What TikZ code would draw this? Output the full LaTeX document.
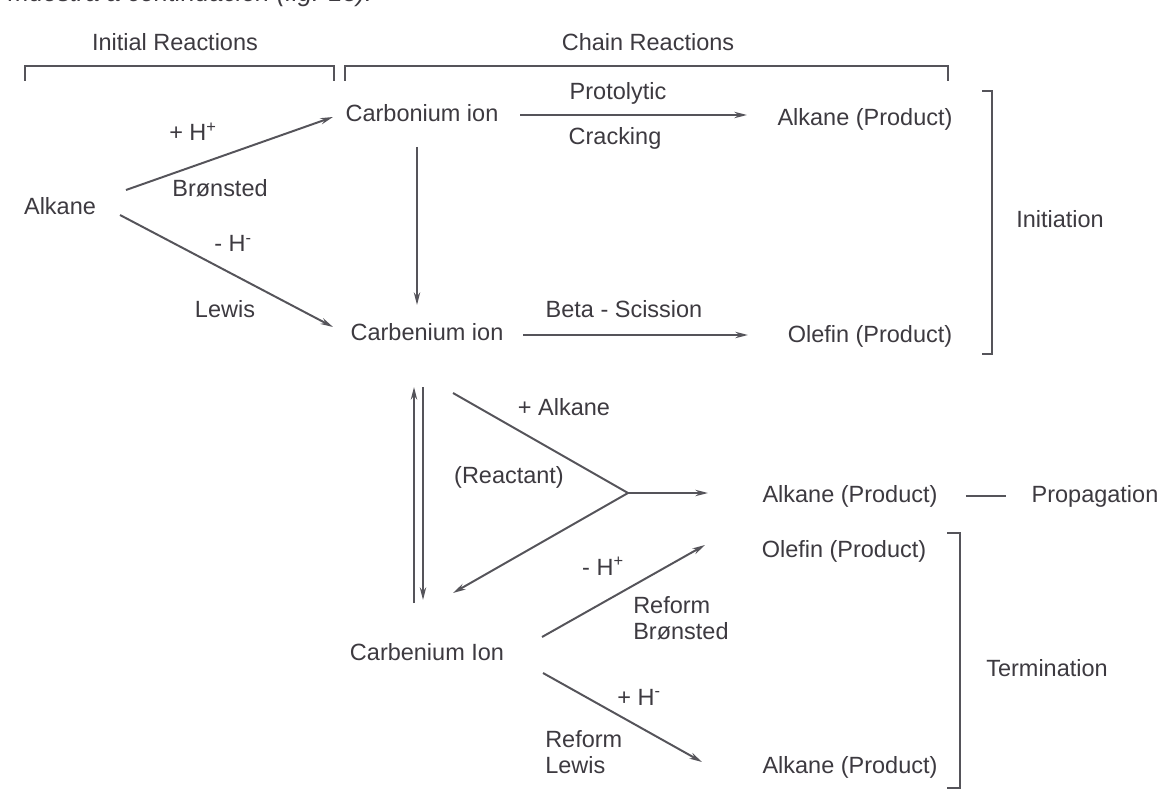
\documentclass[tikz,border=0pt]{standalone}
\usepackage{fontspec}
\setmainfont{Liberation Sans}
\usetikzlibrary{arrows.meta}
\definecolor{ink}{HTML}{3D3A40}
\definecolor{rule}{HTML}{55545A}

\begin{document}
\begin{tikzpicture}[x=0.025cm,y=-0.025cm,
    lbl/.style={inner sep=0pt,anchor=base,text=ink,font=\fontsize{16.7}{18.4}\selectfont},
    line/.style={draw=rule,line width=1.4pt},
    arr/.style={line,-{Stealth[length=9pt,width=4.5pt]}}]
  \useasboundingbox (0,0) rectangle (1168,806);
  \clip (0,0) rectangle (1168,806);
  \fill[white] (0,0) rectangle (1168,806);

  % text cut off at the top
  \node[lbl,anchor=base west,font=\fontsize{18}{20}\selectfont\itshape] (cut) at (8,2) {muestra a continuación (fig. 13).};

  % headings and brackets
  \node[lbl] (hinit) at (175,51) {Initial Reactions};
  \node[lbl] (hchain) at (648,51) {Chain Reactions};
  \draw[line] (25,81) -- (25,66) -- (334,66) -- (334,81);
  \draw[line] (345,81) -- (345,66) -- (948,66) -- (948,81);

  % species
  \node[lbl] (alk) at (60,215) {Alkane};
  \node[lbl] (cbo) at (422,122) {Carbonium ion};
  \node[lbl] (cbe) at (427,340) {Carbenium ion};
  \node[lbl] (cbi) at (427,660) {Carbenium Ion};
  \node[lbl] (alk1) at (865,126) {Alkane (Product)};
  \node[lbl] (ole1) at (870,343) {Olefin (Product)};
  \node[lbl] (alk2) at (850,502) {Alkane (Product)};
  \node[lbl] (prop) at (1095,502) {Propagation};
  \node[lbl] (ole2) at (844,557) {Olefin (Product)};
  \node[lbl] (alk3) at (850,773) {Alkane (Product)};

  % arrow labels
  \node[lbl] (lh1) at (193,141) {+ H\textsuperscript{+}};
  \node[lbl] (lbr) at (220,197) {Brønsted};
  \node[lbl] (lh2) at (233,252) {- H\textsuperscript{-}};
  \node[lbl] (llw) at (225,318) {Lewis};
  \node[lbl] (lpro) at (618,100) {Protolytic};
  \node[lbl] (lcra) at (615,145) {Cracking};
  \node[lbl] (lbeta) at (624,317) {Beta - Scission};
  \node[lbl] (ladd) at (564,415) {+ Alkane};
  \node[lbl] (lrea) at (509,483) {(Reactant)};
  \node[lbl] (lh3) at (603,575) {- H\textsuperscript{+}};
  \node[lbl,anchor=base west,align=left] (lrb) at (633,639) {Reform\\Brønsted};
  \node[lbl] (lh4) at (639,705) {+ H\textsuperscript{-}};
  \node[lbl,anchor=base west,align=left] (lrl) at (545,773) {Reform\\Lewis};

  % arrow ends
  \coordinate (a1) at (126,190);
  \coordinate (a2) at (120,215);
  \coordinate (ya) at (453,393);
  \coordinate (yv) at (628,493);
  \coordinate (yb) at (453,593);
  \coordinate (yc) at (708,493);
  \coordinate (t1) at (542,637);
  \coordinate (t2) at (705,545);
  \coordinate (t3) at (543,673);
  \coordinate (t4) at (702,762);

  % initial reactions
  \draw[arr] (a1) -- (333,117);
  \draw[arr] (a2) -- (333,327);

  % chain reactions
  \draw[arr] (520,115) -- (747,115);
  \draw[arr] (417,147) -- (417,305);
  \draw[arr] (523,335) -- (748,335);
  \draw[arr] (414,603) -- (414,387);
  \draw[arr] (423,387) -- (423,600);
  \draw[line] (ya) -- (yv);
  \draw[arr] (yv) -- (yb);
  \draw[arr] (yv) -- (yc);
  \draw[line,shorten <=0.7cm,shorten >=0.625cm] (alk2.east) -- (alk2.east -| prop.west);
  \draw[arr] (t1) -- (t2);
  \draw[arr] (t3) -- (t4);

  % stage brackets
  \draw[line] (982,91) -- (992,91) -- (992,354) -- (982,354);
  \node[lbl] (init) at (1060,228) {Initiation};
  \draw[line] (947,533) -- (960,533) -- (960,788) -- (947,788);
  \node[lbl] (term) at (1047,676) {Termination};
\end{tikzpicture}
\end{document}
